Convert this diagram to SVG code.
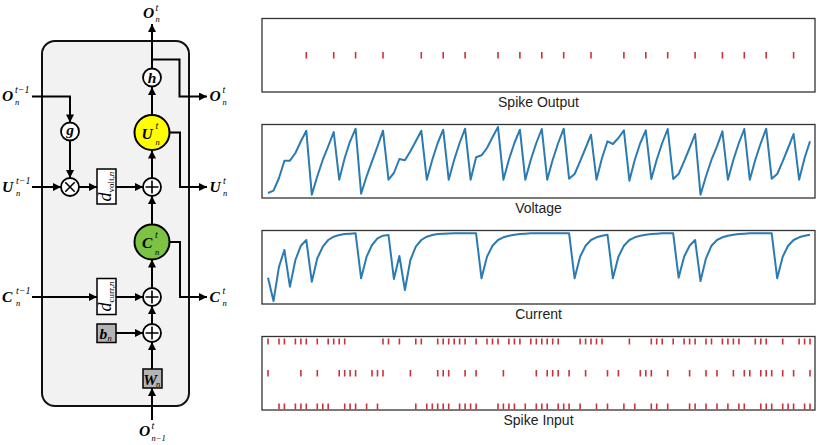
<svg xmlns="http://www.w3.org/2000/svg" width="831" height="445" viewBox="0 0 831 445">
<defs>
<style>
.ln{fill:none;stroke:#000;stroke-width:2}
.arr{marker-end:url(#ah)}
.nd{stroke:#000;stroke-width:1.8}
.mb{font-family:"Liberation Serif","Times New Roman",serif;font-weight:bold;font-style:italic;font-size:15.5px;fill:#000}
.ms{font-family:"Liberation Serif","Times New Roman",serif;font-style:italic;font-size:10px;fill:#000}
.sb{font-size:8.5px}
.frame{fill:#fff;stroke:#333;stroke-width:1.3}
.cap{font-family:"Liberation Sans",Arial,sans-serif;font-size:14px;fill:#222;text-anchor:middle}
.sig{fill:none;stroke:#2b7bb2;stroke-width:2;stroke-linejoin:round}
.spk{stroke:#c8323c;stroke-width:1.6;fill:none}
.op{stroke:#000;stroke-width:1.6}
.dt{font-family:"Liberation Serif","Times New Roman",serif;font-size:18px;text-anchor:middle}
</style>
<marker id="ah" viewBox="0 0 10 10" refX="10" refY="5" markerWidth="9" markerHeight="8" markerUnits="userSpaceOnUse" orient="auto"><path d="M0,0L10,5L0,10z" fill="#000"/></marker>
</defs>

<rect id="cell" x="42" y="41" width="147" height="365" rx="13" fill="#f2f2f2" stroke="#111" stroke-width="2"/>

<g id="connectors">
<path class="ln arr" d="M32,96.5H70V122.5"/>
<path class="ln arr" d="M70,140.5V178"/>
<path class="ln arr" d="M32,187H61"/>
<path class="ln arr" d="M79,187H97"/>
<path class="ln arr" d="M116,187H143"/>
<path class="ln arr" d="M152,178V150.5"/>
<path class="ln arr" d="M152,115V87"/>
<path class="ln arr" d="M152,68.5V24"/>
<path class="ln arr" d="M152,59.5H179.5V96.5H207"/>
<path class="ln arr" d="M169.5,132.5H180V187H207"/>
<path class="ln arr" d="M152,224.5V196"/>
<path class="ln arr" d="M169.5,242H180V297H207"/>
<path class="ln arr" d="M32,297H97"/>
<path class="ln arr" d="M116,297H143"/>
<path class="ln arr" d="M152,324V306"/>
<path class="ln arr" d="M152,288V259.5"/>
<path class="ln arr" d="M116,333H143"/>
<path class="ln arr" d="M152,369V342"/>
<path class="ln arr" d="M152,420V388"/>
</g>

<g id="in-O">
<text class="mb" x="2" y="101">O</text><text class="ms" x="15" y="93">t−1</text><text class="ms sb" x="15" y="105">n</text>
</g>
<g id="in-U">
<text class="mb" x="2" y="191.5">U</text><text class="ms" x="16" y="183.5">t−1</text><text class="ms sb" x="16" y="195.5">n</text>
</g>
<g id="in-C">
<text class="mb" x="2" y="301.5">C</text><text class="ms" x="16" y="293.5">t−1</text><text class="ms sb" x="16" y="305.5">n</text>
</g>
<g id="out-O-top">
<text class="mb" x="143" y="18">O</text><text class="ms" x="155.5" y="11">t</text><text class="ms sb" x="155.5" y="22">n</text>
</g>
<g id="out-O">
<text class="mb" x="209.5" y="101">O</text><text class="ms" x="222.5" y="93">t</text><text class="ms sb" x="222.5" y="105">n</text>
</g>
<g id="out-U">
<text class="mb" x="209.5" y="191.5">U</text><text class="ms" x="223" y="183.5">t</text><text class="ms sb" x="223" y="195.5">n</text>
</g>
<g id="out-C">
<text class="mb" x="209.5" y="301.5">C</text><text class="ms" x="222.5" y="293.5">t</text><text class="ms sb" x="222.5" y="305.5">n</text>
</g>
<g id="in-O-below">
<text class="mb" x="139" y="436">O</text><text class="ms" x="151.5" y="429">t</text><text class="ms sb" x="151.5" y="440.5">n−1</text>
</g>

<g id="g-node">
<circle cx="70" cy="131.5" r="9" fill="#fff" class="nd"/>
<text class="mb" x="70" y="135" text-anchor="middle" font-size="16">g</text>
</g>
<g id="h-node">
<circle cx="152" cy="77.5" r="9" fill="#fff" class="nd"/>
<text class="mb" x="152" y="82.5" text-anchor="middle" font-size="16">h</text>
</g>
<g id="mult">
<circle cx="70" cy="187" r="9" fill="#fff" class="nd"/>
<path class="op" d="M65.3,182.3L74.7,191.7M74.7,182.3L65.3,191.7"/>
</g>
<g id="dvolt">
<rect x="97" y="169" width="19" height="35" fill="#fff" stroke="#000" stroke-width="1.5"/>
<text class="dt" transform="translate(106.5,186.5) rotate(-90)" y="4.5"><tspan font-style="italic">d</tspan><tspan font-size="9" dy="3">volt,</tspan><tspan font-size="9" font-style="italic">n</tspan></text>
</g>
<g id="plus-U">
<circle cx="152" cy="187" r="9" fill="#fff" class="nd"/>
<path class="op" d="M152,180.5V193.5M145.5,187H158.5"/>
</g>
<g id="U-node">
<circle cx="152" cy="132.5" r="17.5" fill="#ffff00" stroke="#000" stroke-width="2"/>
<text class="mb" x="141.5" y="138.5">U</text><text class="ms" x="155.5" y="128.5">t</text><text class="ms sb" x="155.5" y="145">n</text>
</g>
<g id="C-node">
<circle cx="152" cy="242" r="17.5" fill="#7cc243" stroke="#000" stroke-width="2"/>
<text class="mb" x="142" y="247.5">C</text><text class="ms" x="155" y="238">t</text><text class="ms sb" x="155" y="254.5">n</text>
</g>
<g id="dcurr">
<rect x="97" y="278.5" width="19" height="36" fill="#fff" stroke="#000" stroke-width="1.5"/>
<text class="dt" transform="translate(106.5,296.5) rotate(-90)" y="4.5"><tspan font-style="italic">d</tspan><tspan font-size="9" dy="3">curr,</tspan><tspan font-size="9" font-style="italic">n</tspan></text>
</g>
<g id="plus-C">
<circle cx="152" cy="297" r="9" fill="#fff" class="nd"/>
<path class="op" d="M152,290.5V303.5M145.5,297H158.5"/>
</g>
<g id="b-node">
<rect x="97" y="324" width="19" height="18.5" fill="#b4b4b4" stroke="#000" stroke-width="1.5"/>
<text class="mb" x="99.5" y="338.5">b</text><text class="ms sb" x="107.5" y="341">n</text>
</g>
<g id="plus-b">
<circle cx="152" cy="333" r="9" fill="#fff" class="nd"/>
<path class="op" d="M152,326.5V339.5M145.5,333H158.5"/>
</g>
<g id="W-node">
<rect x="143" y="369" width="19" height="19" fill="#b4b4b4" stroke="#000" stroke-width="1.5"/>
<text class="mb" x="143.3" y="384.5" font-size="14.5">W</text><text class="ms sb" x="156" y="386.5">n</text>
</g>

<g id="plot-output">
<rect class="frame" x="262" y="18.5" width="553" height="73.5"/>
<path class="spk" d="M306.3,52v6.5M333.7,52v6.5M355.6,52v6.5M383,52v6.5M421.3,52v6.5M443.2,52v6.5M465.1,52v6.5M498,52v6.5M519.9,52v6.5M541.8,52v6.5M563.7,52v6.5M591,52v6.5M623.9,52v6.5M645.8,52v6.5M667.7,52v6.5M695.1,52v6.5M722.4,52v6.5M744.3,52v6.5M766.2,52v6.5M793.6,52v6.5"/>
<text class="cap" x="538.5" y="106.5">Spike Output</text>
</g>

<g id="plot-voltage">
<rect class="frame" x="262" y="124.5" width="553" height="73.5"/>
<polyline class="sig" transform="translate(0,1)" points="268.0,192.0 273.5,189.7 279.0,177.0 284.4,159.7 289.9,159.7 295.4,152.0 300.9,140.3 306.3,129.7 311.8,193.7 317.3,175.3 322.8,158.7 328.2,145.3 333.7,131.0 339.2,178.7 344.7,157.0 350.1,140.3 355.6,127.7 361.1,192.7 366.6,175.3 372.0,160.3 377.5,145.3 383.0,129.7 388.5,178.7 393.9,172.0 399.4,158.0 404.9,159.3 410.4,150.3 415.8,140.3 421.3,129.7 426.8,178.7 432.3,158.7 437.7,142.0 443.2,128.7 448.7,178.7 454.2,158.7 459.6,142.0 465.1,127.7 470.6,178.7 476.1,156.3 481.5,154.3 487.0,147.0 492.5,136.3 498.0,126.0 503.4,178.7 508.9,158.7 514.4,142.0 519.9,128.7 525.3,178.7 530.8,158.7 536.3,142.0 541.8,128.0 547.2,178.7 552.7,158.7 558.2,142.0 563.7,127.7 569.1,177.7 574.6,173.0 580.1,160.3 585.6,147.0 591.0,133.7 596.5,178.7 602.0,157.0 607.5,140.3 612.9,143.0 618.4,137.0 623.9,129.3 629.4,179.7 634.8,158.7 640.3,142.0 645.8,129.3 651.3,178.0 656.7,158.7 662.2,142.0 667.7,128.0 673.2,178.0 678.6,173.0 684.1,160.3 689.6,147.0 695.1,133.0 700.5,193.7 706.0,175.3 711.5,158.7 717.0,145.3 722.4,130.3 727.9,178.7 733.4,158.7 738.9,142.0 744.3,128.0 749.8,178.7 755.3,158.7 760.8,142.0 766.2,127.7 771.7,177.7 777.2,173.0 782.7,160.3 788.1,147.0 793.6,133.0 799.1,178.7 804.6,157.0 810.0,140.3"/>
<text class="cap" x="538.5" y="212.5">Voltage</text>
</g>

<g id="plot-current">
<rect class="frame" x="262" y="230.5" width="553" height="73.5"/>
<polyline class="sig" points="268.0,277.7 273.5,301.0 279.0,266.7 284.4,250.0 289.9,286.7 295.4,260.0 300.9,245.7 306.3,240.0 311.8,281.7 317.3,258.3 322.8,246.7 328.2,240.0 333.7,236.7 339.2,235.0 344.7,234.0 350.1,233.7 355.6,233.3 361.1,278.3 366.6,256.7 372.0,245.0 377.5,238.3 383.0,235.7 388.5,235.0 393.9,279.0 399.4,256.0 404.9,290.0 410.4,260.0 415.8,246.7 421.3,240.0 426.8,236.7 432.3,235.0 437.7,234.0 443.2,233.7 448.7,233.5 454.2,233.3 476.1,233.3 481.5,278.3 487.0,256.7 492.5,245.7 498.0,240.0 503.4,237.3 508.9,235.7 514.4,234.7 519.9,234.0 525.3,233.7 530.8,233.3 569.1,233.3 574.6,278.3 580.1,256.7 585.6,245.7 591.0,240.0 596.5,237.3 602.0,235.7 607.5,234.7 612.9,278.3 618.4,256.7 623.9,245.7 629.4,240.0 634.8,237.3 640.3,235.7 645.8,234.7 651.3,234.0 656.7,233.7 662.2,233.3 673.2,233.3 678.6,277.7 684.1,256.7 689.6,245.7 695.1,240.0 700.5,281.0 706.0,258.3 711.5,245.7 717.0,240.0 722.4,237.3 727.9,235.7 733.4,234.7 738.9,234.0 744.3,233.7 749.8,233.3 771.7,233.3 777.2,278.3 782.7,256.7 788.1,245.7 793.6,240.0 799.1,237.3 804.6,235.7 810.0,234.7"/>
<text class="cap" x="538.5" y="318.5">Current</text>
</g>

<g id="plot-input">
<rect class="frame" x="262" y="336.5" width="553" height="73.5"/>
<path class="spk" d="M268,338.5v6M279,338.5v6M284.4,338.5v6M295.4,338.5v6M300.9,338.5v6M306.3,338.5v6M317.3,338.5v6M328.2,338.5v6M333.7,338.5v6M339.2,338.5v6M344.7,338.5v6M383,338.5v6M388.5,338.5v6M399.4,338.5v6M415.8,338.5v6M421.3,338.5v6M437.7,338.5v6M443.2,338.5v6M448.7,338.5v6M454.2,338.5v6M459.6,338.5v6M465.1,338.5v6M476.1,338.5v6M487,338.5v6M492.5,338.5v6M498,338.5v6M508.9,338.5v6M514.4,338.5v6M519.9,338.5v6M530.8,338.5v6M536.3,338.5v6M541.8,338.5v6M547.2,338.5v6M552.7,338.5v6M558.2,338.5v6M580.1,338.5v6M585.6,338.5v6M591,338.5v6M596.5,338.5v6M602,338.5v6M629.4,338.5v6M651.3,338.5v6M656.7,338.5v6M662.2,338.5v6M673.2,338.5v6M684.1,338.5v6M689.6,338.5v6M695.1,338.5v6M706,338.5v6M711.5,338.5v6M722.4,338.5v6M727.9,338.5v6M733.4,338.5v6M738.9,338.5v6M755.3,338.5v6M760.8,338.5v6M766.2,338.5v6M782.7,338.5v6M799.1,338.5v6M804.6,338.5v6M810,338.5v6"/>
<path class="spk" d="M268,370v6.5M300.9,370v6.5M317.3,370v6.5M339.2,370v6.5M344.7,370v6.5M350.1,370v6.5M355.6,370v6.5M372,370v6.5M377.5,370v6.5M383,370v6.5M410.4,370v6.5M437.7,370v6.5M443.2,370v6.5M448.7,370v6.5M465.1,370v6.5M476.1,370v6.5M503.4,370v6.5M536.3,370v6.5M547.2,370v6.5M552.7,370v6.5M558.2,370v6.5M569.1,370v6.5M585.6,370v6.5M607.5,370v6.5M618.4,370v6.5M640.3,370v6.5M645.8,370v6.5M651.3,370v6.5M667.7,370v6.5M689.6,370v6.5M706,370v6.5M717,370v6.5M733.4,370v6.5M744.3,370v6.5M749.8,370v6.5M760.8,370v6.5M766.2,370v6.5M771.7,370v6.5M782.7,370v6.5M793.6,370v6.5M810,370v6.5"/>
<path class="spk" d="M279,403.5v6M284.4,403.5v6M295.4,403.5v6M300.9,403.5v6M306.3,403.5v6M317.3,403.5v6M322.8,403.5v6M328.2,403.5v6M344.7,403.5v6M350.1,403.5v6M355.6,403.5v6M366.6,403.5v6M377.5,403.5v6M415.8,403.5v6M426.8,403.5v6M432.3,403.5v6M437.7,403.5v6M443.2,403.5v6M448.7,403.5v6M459.6,403.5v6M465.1,403.5v6M470.6,403.5v6M476.1,403.5v6M498,403.5v6M503.4,403.5v6M508.9,403.5v6M514.4,403.5v6M525.3,403.5v6M536.3,403.5v6M541.8,403.5v6M547.2,403.5v6M558.2,403.5v6M563.7,403.5v6M569.1,403.5v6M580.1,403.5v6M596.5,403.5v6M607.5,403.5v6M623.9,403.5v6M634.8,403.5v6M651.3,403.5v6M656.7,403.5v6M667.7,403.5v6M689.6,403.5v6M695.1,403.5v6M706,403.5v6M717,403.5v6M727.9,403.5v6M738.9,403.5v6M744.3,403.5v6M760.8,403.5v6M766.2,403.5v6M771.7,403.5v6M782.7,403.5v6M788.1,403.5v6M793.6,403.5v6M804.6,403.5v6M810,403.5v6"/>
<text class="cap" x="538.5" y="424.5">Spike Input</text>
</g>
</svg>
